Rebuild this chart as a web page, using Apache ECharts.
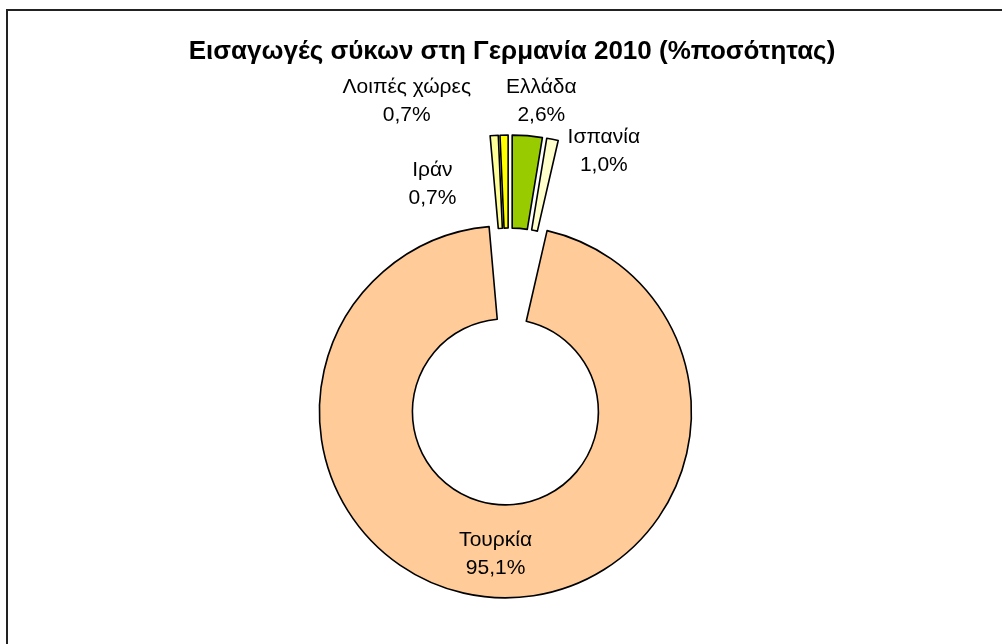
<!DOCTYPE html>
<html>
<head>
<meta charset="utf-8">
<script src="https://cdn.jsdelivr.net/npm/echarts@6/dist/echarts.min.js"></script>
<style>
html,body{margin:0;padding:0;background:#fff;}
#chart{width:1002px;height:644px;}
</style>
</head>
<body>
<div id="chart"></div>
<script>
const titleText = 'Εισαγωγές σύκων στη Γερμανία 2010 (%ποσότητας)';
const categories = ['Ελλάδα', 'Ισπανία', 'Τουρκία', 'Ιράν', 'Λοιπές χώρες'];
const values = [2.6, 1.0, 95.1, 0.7, 0.7];
const colors = ['#99CC00', '#FFFFCC', '#FFCC99', '#FFFF99', '#FFFF00'];
// which series (explode group) draws each slice: 0 = big slice, 1 = small slices
const group = [1, 1, 0, 1, 1];
// label nudges (px) from the library's default outside/inside label point
const labelShift = {
  'Ελλάδα': [8, -23],
  'Ισπανία': [44, 24],
  'Τουρκία': [0, 0],
  'Ιράν': [-56, 61],
  'Λοιπές χώρες': [-92, -22]
};

const chart = echarts.init(document.getElementById('chart'), null, {renderer: 'canvas'});
const fmt = v => v.toFixed(1).replace('.', ',') + '%';
const FONT = 'Liberation Sans, Arial, sans-serif';

function makeSeries(g, offset) {
  return {
    type: 'pie',
    center: [509, 360],
    radius: [93, 186],
    startAngle: 90,
    clockwise: true,
    selectedMode: 'multiple',
    selectedOffset: offset,
    avoidLabelOverlap: false,
    emphasis: {disabled: true},
    itemStyle: {borderColor: '#000', borderWidth: 1.6},
    select: {itemStyle: {borderColor: '#000', borderWidth: 1.6}},
    label: {
      show: true,
      position: 'outside',
      fontFamily: FONT,
      fontSize: 21,
      lineHeight: 28,
      color: '#000',
      formatter: p => p.name + '\n' + fmt(p.value)
    },
    labelLine: {show: false, length: 12, length2: 0},
    labelLayout: function (params) {
      const s = labelShift[categories[params.dataIndex]];
      return {dx: s[0], dy: s[1], align: 'center'};
    },
    data: categories.map((c, i) => {
      const mine = group[i] === g;
      return {
        name: c,
        value: values[i],
        selected: mine,
        itemStyle: mine ? {color: colors[i]} : {color: 'rgba(0,0,0,0)', borderWidth: 0},
        select: mine ? undefined : {itemStyle: {color: 'rgba(0,0,0,0)', borderWidth: 0}},
        label: mine ? (c === 'Τουρκία' ? {position: 'inside'} : {}) : {show: false}
      };
    })
  };
}

chart.setOption({
  animation: false,
  backgroundColor: '#fff',
  title: {
    text: titleText,
    left: 507,
    textAlign: 'center',
    top: 34,
    textStyle: {fontFamily: FONT, fontWeight: 'bold', fontSize: 26, color: '#000'}
  },
  graphic: [{
    type: 'rect',
    shape: {x: 7, y: 10, width: 1100, height: 800},
    style: {fill: 'none', stroke: '#222', lineWidth: 2},
    silent: true, z: 100
  }],
  series: [makeSeries(0, 52), makeSeries(1, 39)]
});
</script>
</body>
</html>
